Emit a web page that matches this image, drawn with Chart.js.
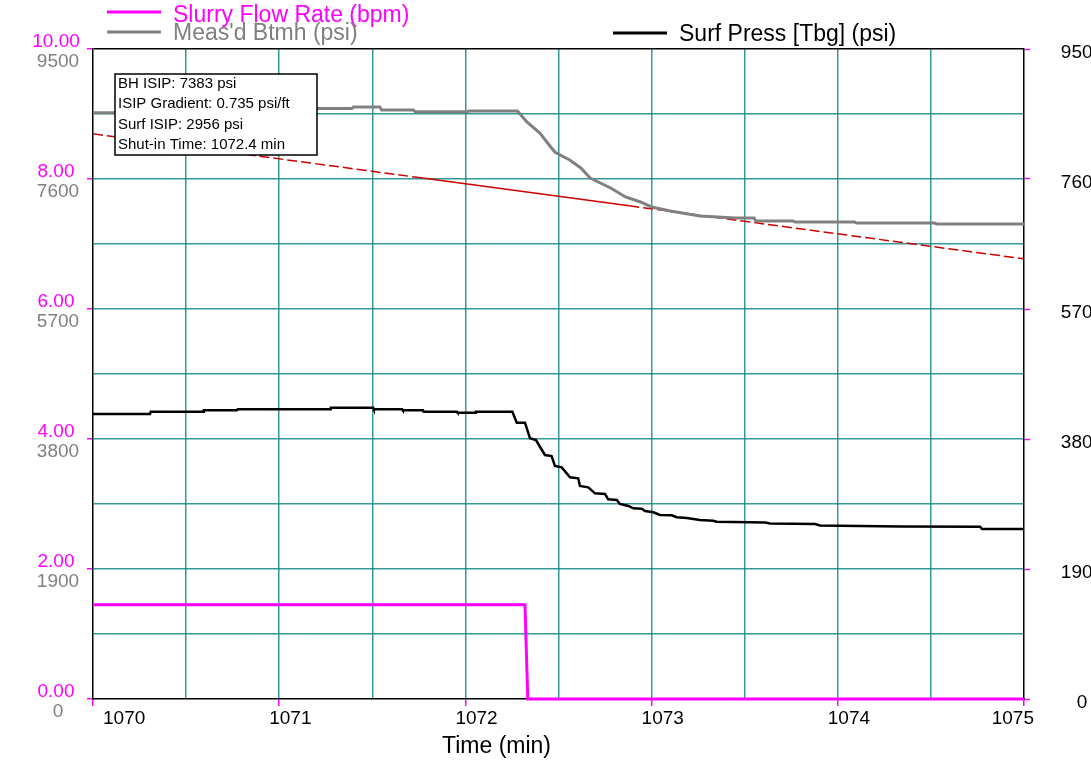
<!DOCTYPE html>
<html>
<head>
<meta charset="utf-8">
<script src="https://cdn.jsdelivr.net/npm/chart.js@4/dist/chart.umd.min.js"></script>
<style>
  html, body { margin: 0; padding: 0; background: #fff; overflow: hidden; }
  #wrap { width: 1091px; height: 762px; position: relative; }
</style>
</head>
<body>
<div id="wrap"><canvas id="isipChart"></canvas></div>
<script>
// Slurry flow rate (bpm)
const slurryTime = [1070, 1072.32, 1072.335, 1075];
const slurryRate = [1.45, 1.45, 0, 0];

// Meas'd Btmh (psi)
const btmhTime = [1070.00, 1070.60, 1070.61, 1071.39, 1071.40, 1071.54, 1071.55, 1071.72, 1071.73, 1072.01,
  1072.02, 1072.28, 1072.33, 1072.40, 1072.45, 1072.48, 1072.56, 1072.62, 1072.67, 1072.78,
  1072.86, 1072.94, 1073.00, 1073.10, 1073.26, 1073.45, 1073.55, 1073.56, 1073.76, 1073.77,
  1074.09, 1074.10, 1074.52, 1074.53, 1075.00];
const btmhPsi = [8569, 8569, 8630, 8630, 8652, 8652, 8610, 8610, 8583, 8583,
  8594, 8594, 8433, 8272, 8097, 7994, 7878, 7761, 7615, 7469,
  7337, 7264, 7191, 7133, 7060, 7030, 7030, 6986, 6986, 6972,
  6972, 6957, 6957, 6943, 6943];

// Surf Press [Tbg] (psi)
const surfTime = [1070.000, 1070.306, 1070.310, 1070.591, 1070.595, 1070.773, 1070.777, 1071.273, 1071.277, 1071.504,
  1071.508, 1071.660, 1071.664, 1071.772, 1071.776, 1071.955, 1071.959, 1072.052, 1072.056, 1072.252,
  1072.276, 1072.320, 1072.347, 1072.379, 1072.427, 1072.463, 1072.481, 1072.517, 1072.562, 1072.606,
  1072.615, 1072.660, 1072.696, 1072.750, 1072.767, 1072.813, 1072.830, 1072.875, 1072.902, 1072.947,
  1072.965, 1073.009, 1073.045, 1073.108, 1073.135, 1073.188, 1073.260, 1073.331, 1073.350, 1073.609,
  1073.636, 1073.878, 1073.904, 1074.334, 1074.764, 1074.775, 1075.000];
const surfPsi = [4165, 4165, 4199, 4199, 4219, 4219, 4234, 4234, 4258, 4258,
  4234, 4234, 4219, 4219, 4199, 4199, 4185, 4185, 4200, 4200,
  4038, 4038, 3810, 3785, 3566, 3551, 3405, 3386, 3240, 3226,
  3113, 3094, 3006, 2996, 2919, 2908, 2850, 2821, 2787, 2781,
  2748, 2729, 2689, 2685, 2656, 2645, 2616, 2606, 2591, 2580,
  2565, 2558, 2536, 2521, 2518, 2485, 2485];

// ISIP fit line (BH psi); solid over the fitted window, dashed elsewhere
const isipTime = [1070, 1071.75, 1072.4, 1072.88, 1075];
const isipPsi = [8260, 7621, 7383, 7208, 6433];
const fitWindow = [1071.75, 1072.88];

// shut-in summary
const bhIsip = 7383;
const isipGradient = 0.735;
const surfIsip = 2956;
const shutInTime = 1072.4;

// axis tick labels
const rateTicks = [0, 2, 4, 6, 8, 10];
const psiTicks = [0, 1900, 3800, 5700, 7600, 9500];
const timeTicks = [1070, 1071, 1072, 1073, 1074, 1075];

const MAGENTA = '#ff00ff';
const GREY = '#808080';
const TEAL = 'rgba(0,128,128,0.8)';
const CLEAR = 'rgba(0,0,0,0)';
const FONT = 'Arial, "Liberation Sans", sans-serif';

const pts = (xs, ys) => xs.map((x, i) => ({ x: x, y: ys[i] }));
const near = (a, b) => Math.abs(a - b) < 1e-6;

// labels, legend and the summary box are painted by hand
const overlay = {
  id: 'overlay',
  afterDraw(chart) {
    const ctx = chart.ctx;
    const xs = chart.scales.x;
    const yr = chart.scales.yRate;
    const yp = chart.scales.ySurf;
    const ca = chart.chartArea;
    ctx.save();

    // left axis: rate over pressure
    ctx.font = '19px ' + FONT;
    ctx.textAlign = 'center';
    ctx.textBaseline = 'middle';
    rateTicks.forEach((v, i) => {
      const y = yr.getPixelForValue(v);
      ctx.fillStyle = MAGENTA;
      ctx.fillText(v.toFixed(2), 56, y - 7);
      ctx.fillStyle = GREY;
      ctx.fillText(String(psiTicks[i]), 58, y + 13);
    });

    // right axis
    ctx.fillStyle = '#000';
    psiTicks.forEach(v => {
      ctx.fillText(String(v), 1082, yp.getPixelForValue(v) + 4);
    });

    // time labels
    timeTicks.forEach((v, i) => {
      const x = xs.getPixelForValue(v);
      if (i === 0) {
        ctx.textAlign = 'left';
        ctx.fillText(String(v), x + 10, 719);
      } else if (i === timeTicks.length - 1) {
        ctx.textAlign = 'right';
        ctx.fillText(String(v), x + 10, 719);
      } else {
        ctx.textAlign = 'left';
        ctx.fillText(String(v), x - 10, 719);
      }
    });

    ctx.font = '23px ' + FONT;
    ctx.textAlign = 'center';
    ctx.fillText('Time (min)', (ca.left + ca.right) / 2 - 62, 747);

    // legend
    const ds = chart.data.datasets;
    const legendItems = [
      { d: ds[0], x: 107, y: 12, base: 22 },
      { d: ds[1], x: 107, y: 32, base: 40 },
      { d: ds[2], x: 613, y: 33, base: 41 }
    ];
    ctx.textAlign = 'left';
    ctx.textBaseline = 'alphabetic';
    legendItems.forEach(it => {
      ctx.strokeStyle = it.d.borderColor;
      ctx.lineWidth = 3;
      ctx.beginPath();
      ctx.moveTo(it.x, it.y);
      ctx.lineTo(it.x + 54, it.y);
      ctx.stroke();
      ctx.fillStyle = it.d.borderColor;
      ctx.fillText(it.d.label, it.x + 66, it.base);
    });

    // shut-in summary box
    const lines = [
      'BH ISIP: ' + bhIsip + ' psi',
      'ISIP Gradient: ' + isipGradient.toFixed(3) + ' psi/ft',
      'Surf ISIP: ' + surfIsip + ' psi',
      'Shut-in Time: ' + shutInTime.toFixed(1) + ' min'
    ];
    const bx = ca.left + 22, by = ca.top + 25, bw = 202, bh = 81;
    ctx.fillStyle = '#fff';
    ctx.fillRect(bx, by, bw, bh);
    ctx.strokeStyle = '#000';
    ctx.lineWidth = 1.5;
    ctx.strokeRect(bx, by, bw, bh);
    ctx.font = '15px ' + FONT;
    ctx.fillStyle = '#000';
    ctx.textBaseline = 'middle';
    lines.forEach((t, i) => ctx.fillText(t, bx + 3, by + 10 + i * 20.3));

    ctx.restore();
  }
};

new Chart(document.getElementById('isipChart'), {
  type: 'line',
  data: {
    datasets: [
      {
        label: 'Slurry Flow Rate (bpm)',
        data: pts(slurryTime, slurryRate),
        yAxisID: 'yRate',
        borderColor: MAGENTA,
        borderWidth: 3,
        clip: false
      },
      {
        label: "Meas'd Btmh (psi)",
        data: pts(btmhTime, btmhPsi),
        yAxisID: 'yBh',
        borderColor: GREY,
        borderWidth: 3
      },
      {
        label: 'Surf Press [Tbg] (psi)',
        data: pts(surfTime, surfPsi),
        yAxisID: 'ySurf',
        borderColor: '#000',
        borderWidth: 2.5
      },
      {
        label: 'ISIP',
        data: pts(isipTime, isipPsi),
        yAxisID: 'yBh',
        borderColor: '#cc0000',
        borderWidth: 1.5,
        segment: {
          borderDash: c => (c.p0.parsed.x >= fitWindow[0] - 1e-6 && c.p1.parsed.x <= fitWindow[1] + 1e-6) ? [] : [10, 4]
        }
      }
    ]
  },
  options: {
    responsive: true,
    maintainAspectRatio: false,
    animation: false,
    layout: { padding: { top: 49, left: 0, right: 0, bottom: 0 } },
    elements: { point: { radius: 0 }, line: { tension: 0 } },
    plugins: { legend: { display: false }, tooltip: { enabled: false } },
    scales: {
      x: {
        type: 'linear',
        min: 1070,
        max: 1075,
        ticks: { stepSize: 0.5, display: false },
        grid: {
          color: c => (near(c.tick.value, 1070) || near(c.tick.value, 1075)) ? CLEAR : TEAL,
          lineWidth: 1.5,
          tickColor: c => near(c.tick.value, Math.round(c.tick.value)) ? MAGENTA : CLEAR,
          tickLength: 7,
          tickWidth: 1.5
        },
        border: { color: '#000', width: 1.5 },
        afterFit: s => { s.height = 63; }
      },
      yRate: {
        position: 'left',
        min: 0,
        max: 10,
        ticks: { stepSize: 1, display: false },
        grid: {
          color: c => near(c.tick.value, 10) ? '#000' : (near(c.tick.value, 0) ? CLEAR : TEAL),
          lineWidth: 1.5,
          tickColor: c => (Math.round(c.tick.value) % 2 === 0) ? MAGENTA : CLEAR,
          tickLength: 6,
          tickWidth: 1.5
        },
        border: { color: '#000', width: 1.5 },
        afterFit: s => { s.width = 93; }
      },
      yBh: {
        position: 'left',
        display: false,
        min: 0,
        max: 9500
      },
      ySurf: {
        position: 'right',
        min: 0,
        max: 9500,
        ticks: { stepSize: 950, display: false },
        grid: {
          drawOnChartArea: false,
          tickColor: c => (Math.round(c.tick.value) % 1900 === 0) ? MAGENTA : CLEAR,
          tickLength: 6,
          tickWidth: 1.5
        },
        border: { color: '#000', width: 1.5 },
        afterFit: s => { s.width = 67; }
      }
    }
  },
  plugins: [overlay]
});
</script>
</body>
</html>
